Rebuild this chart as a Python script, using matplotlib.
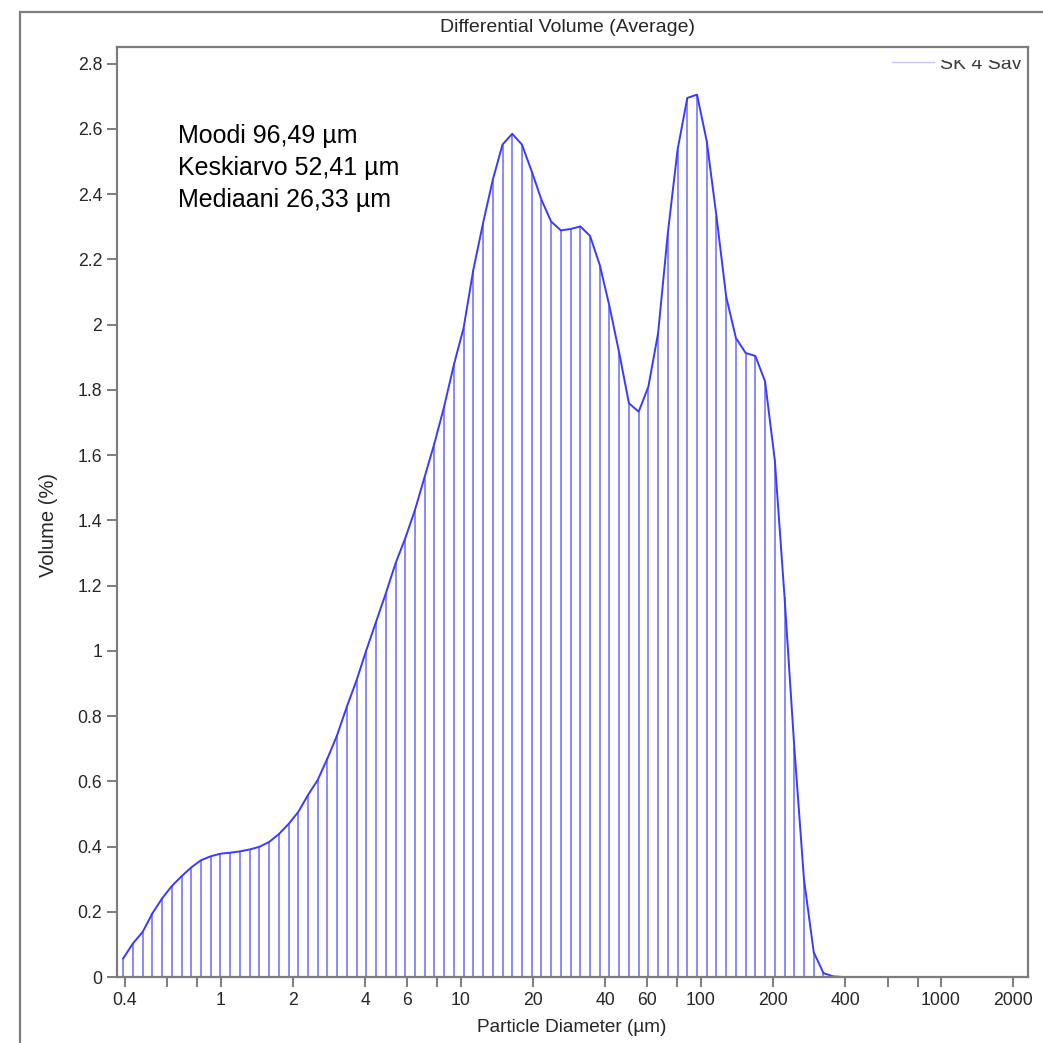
import matplotlib
matplotlib.use("Agg")
import matplotlib.pyplot as plt
import numpy as np
from matplotlib.patches import Rectangle
from matplotlib.lines import Line2D
from matplotlib.transforms import Bbox, TransformedBbox
from matplotlib.ticker import FixedLocator, NullFormatter

plt.rcParams['font.family'] = ['Liberation Sans', 'DejaVu Sans']

# kanavien rajat (µm), kuvaaja piirretaan kanavan geometriseen keskikohtaan
channel_edges = np.array([
    0.375, 0.412, 0.452, 0.496, 0.545, 0.598, 0.657, 0.721, 0.791, 0.869,
    0.953, 1.047, 1.149, 1.261, 1.385, 1.520, 1.669, 1.832, 2.011, 2.208,
    2.423, 2.660, 2.920, 3.206, 3.519, 3.863, 4.241, 4.656, 5.111, 5.611,
    6.159, 6.761, 7.422, 8.148, 8.944, 9.819, 10.78, 11.83, 12.99, 14.26,
    15.65, 17.18, 18.86, 20.71, 22.73, 24.95, 27.39, 30.07, 33.01, 36.24,
    39.78, 43.67, 47.94, 52.62, 57.77, 63.41, 69.61, 76.42, 83.89, 92.09,
    101.1, 111.0, 121.8, 133.7, 146.8, 161.2, 176.8, 194.2, 213.2, 234.1,
    256.8, 282.1, 309.6, 339.8, 373.1, 409.6])

volume_pct = [
    0.057, 0.103, 0.138, 0.195, 0.241, 0.279, 0.309, 0.336, 0.358, 0.370,
    0.378, 0.381, 0.385, 0.391, 0.399, 0.414, 0.438, 0.469, 0.506, 0.558,
    0.604, 0.670, 0.742, 0.829, 0.910, 1.002, 1.089, 1.176, 1.268, 1.345,
    1.432, 1.534, 1.636, 1.749, 1.877, 1.990, 2.168, 2.311, 2.444, 2.552,
    2.585, 2.552, 2.470, 2.383, 2.316, 2.289, 2.293, 2.301, 2.272, 2.183,
    2.056, 1.913, 1.759, 1.733, 1.810, 1.974, 2.281, 2.536, 2.695, 2.705,
    2.562, 2.332, 2.086, 1.959, 1.913, 1.904, 1.826, 1.584, 1.164, 0.706,
    0.299, 0.076, 0.012, 0.002, 0.0]

x_major = [0.4, 1, 2, 4, 6, 10, 20, 40, 60, 100, 200, 400, 1000, 2000]
x_major_labels = ['0.4', '1', '2', '4', '6', '10', '20', '40', '60', '100',
                  '200', '400', '1000', '2000']
x_minor = [0.6, 0.8, 8, 80, 600, 800]
y_ticks = [0, 0.2, 0.4, 0.6, 0.8, 1, 1.2, 1.4, 1.6, 1.8, 2, 2.2, 2.4, 2.6, 2.8]
y_labels = ['0', '0.2', '0.4', '0.6', '0.8', '1', '1.2', '1.4', '1.6', '1.8',
            '2', '2.2', '2.4', '2.6', '2.8']

stats_lines = ['Moodi 96,49 µm', 'Keskiarvo 52,41 µm', 'Mediaani 26,33 µm']
title = 'Differential Volume (Average)'
series_name = 'SK 4 Sav'

W = H = 1043
frame_gray = '#7d7d7d'
text_col = '#262626'


def fx(px):
    return px / W


def fy(py):
    return 1 - py / H


centers = np.sqrt(channel_edges[:-1] * channel_edges[1:])

fig = plt.figure(figsize=(W / 100, H / 100), dpi=100)
fig.patch.set_facecolor('white')

# ulompi kehys
fig.patches.append(Rectangle((fx(20), -0.2), 1.5, fy(11.7) + 0.2, transform=fig.transFigure,
                             fill=False, edgecolor=frame_gray, linewidth=1.6))

ax = fig.add_axes([fx(116.7), fy(977), fx(1028) - fx(116.7), fy(46.7) - fy(977)])
ax.set_xscale('log')
ax.set_xlim(0.3693, 2307)
ax.set_ylim(0, 2.852)

ax.vlines(centers, 0, volume_pct, colors='#7c7cff', linewidth=1.25)
ax.plot(centers, volume_pct, color='#3a3aff', linewidth=1.4)

ax.xaxis.set_major_locator(FixedLocator(x_major))
ax.set_xticklabels(x_major_labels)
ax.xaxis.set_minor_locator(FixedLocator(x_minor))
ax.xaxis.set_minor_formatter(NullFormatter())
ax.set_yticks(y_ticks)
ax.set_yticklabels(y_labels)

ax.tick_params(axis='x', which='both', direction='out', length=7, width=1.4,
               color=frame_gray, labelsize=12.7, labelcolor=text_col, pad=4)
ax.tick_params(axis='y', which='both', direction='out', length=7, width=1.4,
               color=frame_gray, labelsize=12.7, labelcolor=text_col, pad=3.5)
for s in ax.spines.values():
    s.set_color(frame_gray)
    s.set_linewidth(1.6)

fig.text(fx(567), fy(27), title, ha='center', va='center', fontsize=14, color=text_col)
fig.text(fx(572), fy(1027), 'Particle Diameter (µm)', ha='center', va='center',
         fontsize=13.7, color=text_col)
fig.text(fx(48), fy(525), 'Volume (%)', ha='center', va='center', rotation=90,
         fontsize=14.5, color=text_col)

for i, line in enumerate(stats_lines):
    fig.text(fx(178), fy(143 + 32 * i), line, ha='left', va='baseline',
             fontsize=18, color='black')

# selite, ylaosa leikkautuu pois kuten alkuperaisessa
fig.lines.append(Line2D([fx(892), fx(934)], [fy(61.7), fy(61.7)], transform=fig.transFigure,
                        color='#c8c8ff', linewidth=1.0))
clip = TransformedBbox(Bbox([[fx(880), fy(85)], [fx(1027), fy(60)]]), fig.transFigure)
t = fig.text(fx(940), fy(69), series_name, ha='left', va='baseline', fontsize=14,
             color='#3a3a3a')
t.set_clip_box(clip)
t.set_clip_on(True)

fig.savefig('out.png', dpi=100, facecolor='white')
